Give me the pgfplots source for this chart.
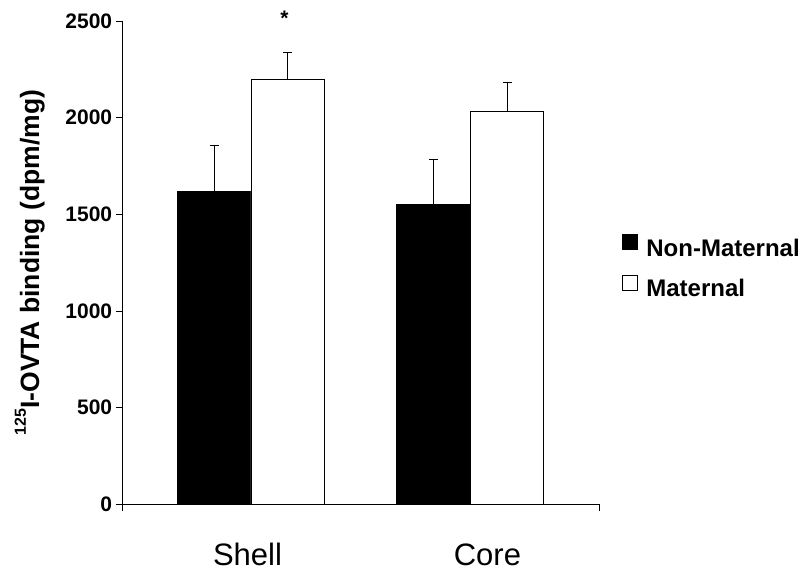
\documentclass[border=0pt]{standalone}
\usepackage{fontspec}
\setmainfont{Liberation Sans}
\usepackage{pgfplots}
\pgfplotsset{compat=1.18}
\begin{document}
\begin{tikzpicture}
\useasboundingbox (-122.7pt,-66.7pt) rectangle (689.3pt,504.3pt);
\begin{axis}[
  at={(0pt,0pt)}, anchor=south west,
  scale only axis, width=476.6pt, height=483.3pt,
  xmin=-0.585, xmax=1.588, ymin=0, ymax=2500,
  clip=false,
  axis x line*=bottom, axis y line*=left,
  axis line style={line width=0.8pt, -},
  ytick={0,500,1000,1500,2000,2500},
  tick align=outside, major tick length=7pt,
  tick style={line width=0.8pt, black},
  yticklabel style={font=\fontsize{21}{25}\selectfont\bfseries},
  /pgf/number format/assume math mode=true,
  /pgf/number format/1000 sep={},
  xtick={-0.585,1.588}, xticklabels={},
  extra x ticks={-0.016,1.078},
  extra x tick labels={Shell,Core},
  extra x tick style={major tick length=0pt,
     xticklabel style={font=\fontsize{31}{36}\selectfont, anchor=base, yshift=-60.7pt}},
  ylabel={\raisebox{13.3pt}{\fontsize{16}{18}\selectfont 125}I-OVTA binding (dpm/mg)},
  ylabel style={font=\fontsize{26.5}{30}\selectfont\bfseries, at={(axis description cs:-0.195,0.5)}, anchor=center},
  legend style={draw=none, fill=none, at={(rel axis cs:1.047,0.489)}, anchor=west,
     font=\fontsize{24}{28}\selectfont\bfseries, inner sep=0pt, row sep=13.6pt,
     nodes={inner sep=0pt, text height=17pt, text depth=5pt},
     /tikz/every odd column/.append style={column sep=8.7pt}},
  legend cell align=left,
]
\addplot[ybar, bar width=73.5pt, bar shift=0pt, fill=black, draw=black, line width=0.8pt,
  error bars/.cd, y dir=plus, y explicit,
  error bar style={line width=0.8pt, black},
  error mark options={rotate=90, mark size=4.5pt, line width=0.8pt, black}]
  coordinates {(-0.1675,1617) +- (0,242) (0.8325,1549) +- (0,233)};
\addlegendentry{Non-Maternal}
\addplot[ybar, bar width=73.5pt, bar shift=0pt, fill=white, draw=black, line width=0.8pt,
  error bars/.cd, y dir=plus, y explicit,
  error bar style={line width=0.8pt, black},
  error mark options={rotate=90, mark size=4.5pt, line width=0.8pt, black}]
  coordinates {(0.1675,2200) +- (0,135) (1.1675,2031) +- (0,152)};
\addlegendentry{Maternal}
\pgfplotsset{legend image code/.code={\draw[#1, line width=0.8pt] (0pt,0.3pt) rectangle (15pt,15.3pt);}}
\node[font=\fontsize{21}{25}\selectfont\bfseries, anchor=base] at (axis cs:0.152,2479) {*};
\end{axis}
\end{tikzpicture}
\end{document}
